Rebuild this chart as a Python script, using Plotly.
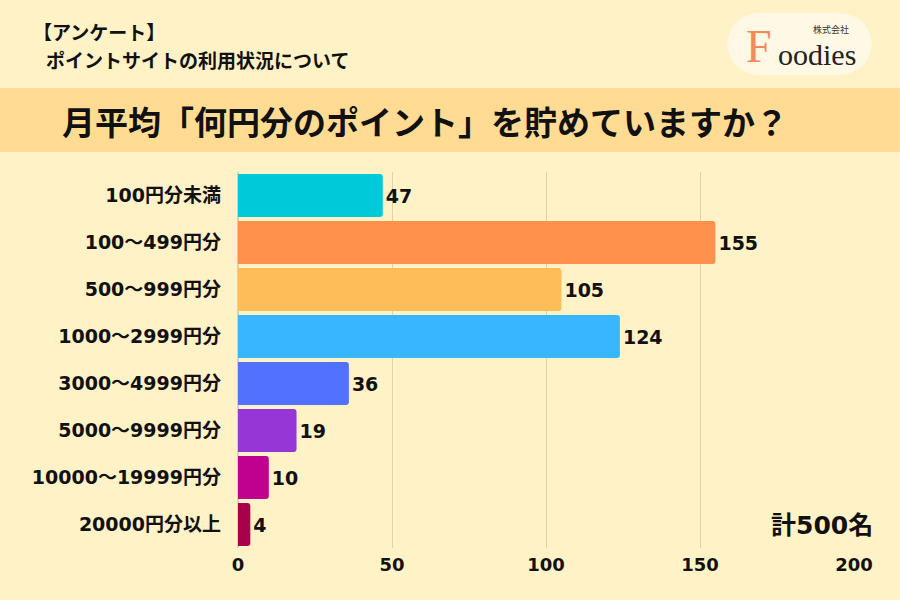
import plotly.graph_objects as go

# survey: monthly points saved (n=500)
categories = ["100円分未満", "100〜499円分", "500〜999円分", "1000〜2999円分",
              "3000〜4999円分", "5000〜9999円分", "10000〜19999円分", "20000円分以上"]
counts = [47, 155, 105, 124, 36, 19, 10, 4]
bar_colors = ["#00C9D9", "#FF914D", "#FFBD59", "#38B6FF",
              "#5271FF", "#9736D6", "#C0008F", "#A8004A"]
x_ticks = [0, 50, 100, 150, 200]

bg = "#FFF2C6"
jp = "Noto Sans CJK JP"
num = "DejaVu Sans, Noto Sans CJK JP"  # wide digits, CJK falls back
ink = "#111111"

fig = go.Figure()
fig.add_trace(go.Bar(
    x=counts, y=categories, orientation="h",
    marker=dict(color=bar_colors, cornerradius=3, line_width=0),
    text=counts, textposition="outside",
    textfont=dict(family=num, size=19, color=ink, weight="bold"),
    cliponaxis=False,
))

fig.update_layout(
    width=900, height=600,
    paper_bgcolor=bg, plot_bgcolor=bg,
    margin=dict(l=238, r=46, t=172, b=52),
    bargap=0.09,
    showlegend=False,
    font=dict(family=jp, color=ink),
)
fig.update_xaxes(range=[0, 200], tickvals=x_ticks, showgrid=True,
                 gridcolor="#DDD2AE", gridwidth=1, zeroline=True,
                 zerolinecolor="#DDD2AE", ticks="", showline=False,
                 ticklabelstandoff=4,
                 tickfont=dict(family=num, size=18, color=ink, weight="bold"))
fig.update_yaxes(autorange="reversed", ticks="", showline=False,
                 ticklabelstandoff=16,
                 tickfont=dict(family=num, size=19, color=ink, weight="bold"))


# pixel -> paper coords
def py(pix):
    return (548 - pix) / 376


def px_(pix):
    return (pix - 238) / 616


# title band
fig.add_shape(type="rect", xref="paper", yref="paper",
              x0=px_(0), x1=px_(900), y0=py(152), y1=py(88),
              line_width=0, fillcolor="#FFDB94", layer="below")


def note(text, x, y, size, xanchor="left", family=jp, color=ink, weight="bold"):
    fig.add_annotation(text=text, xref="paper", yref="paper",
                       x=px_(x), y=py(y), xanchor=xanchor, yanchor="middle",
                       showarrow=False,
                       font=dict(family=family, size=size, color=color, weight=weight))


note("月平均「何円分のポイント」を貯めていますか？", 425, 121, 33, xanchor="center")
note("【アンケート】", 31, 31, 19)
note("ポイントサイトの利用状況について", 44, 59, 19)
note("計500名", 875, 525, 25, xanchor="right", family=num)

# logo
x0, x1, y0, y1, r = px_(727), px_(872), py(75), py(13), 0.06
ry = r * 616 / 376
fig.add_shape(type="path", xref="paper", yref="paper",
              path=(f"M {x0 + r},{y0} L {x1 - r},{y0} Q {x1},{y0} {x1},{y0 + ry} "
                    f"L {x1},{y1 - ry} Q {x1},{y1} {x1 - r},{y1} "
                    f"L {x0 + r},{y1} Q {x0},{y1} {x0},{y1 - ry} "
                    f"L {x0},{y0 + ry} Q {x0},{y0} {x0 + r},{y0} Z"),
              line_width=0, fillcolor="#FFF8E4", layer="below")
note("F", 744, 46, 46, family="Liberation Serif", color="#F5895A", weight="normal")
note("oodies", 776, 54, 30, family="Liberation Serif", color="#222222", weight="normal")
note("株式会社", 811, 29, 9, color="#333333", weight="normal")

fig.write_html("out.html", config={"displayModeBar": False},
               post_script="document.body.style.margin='0';")
